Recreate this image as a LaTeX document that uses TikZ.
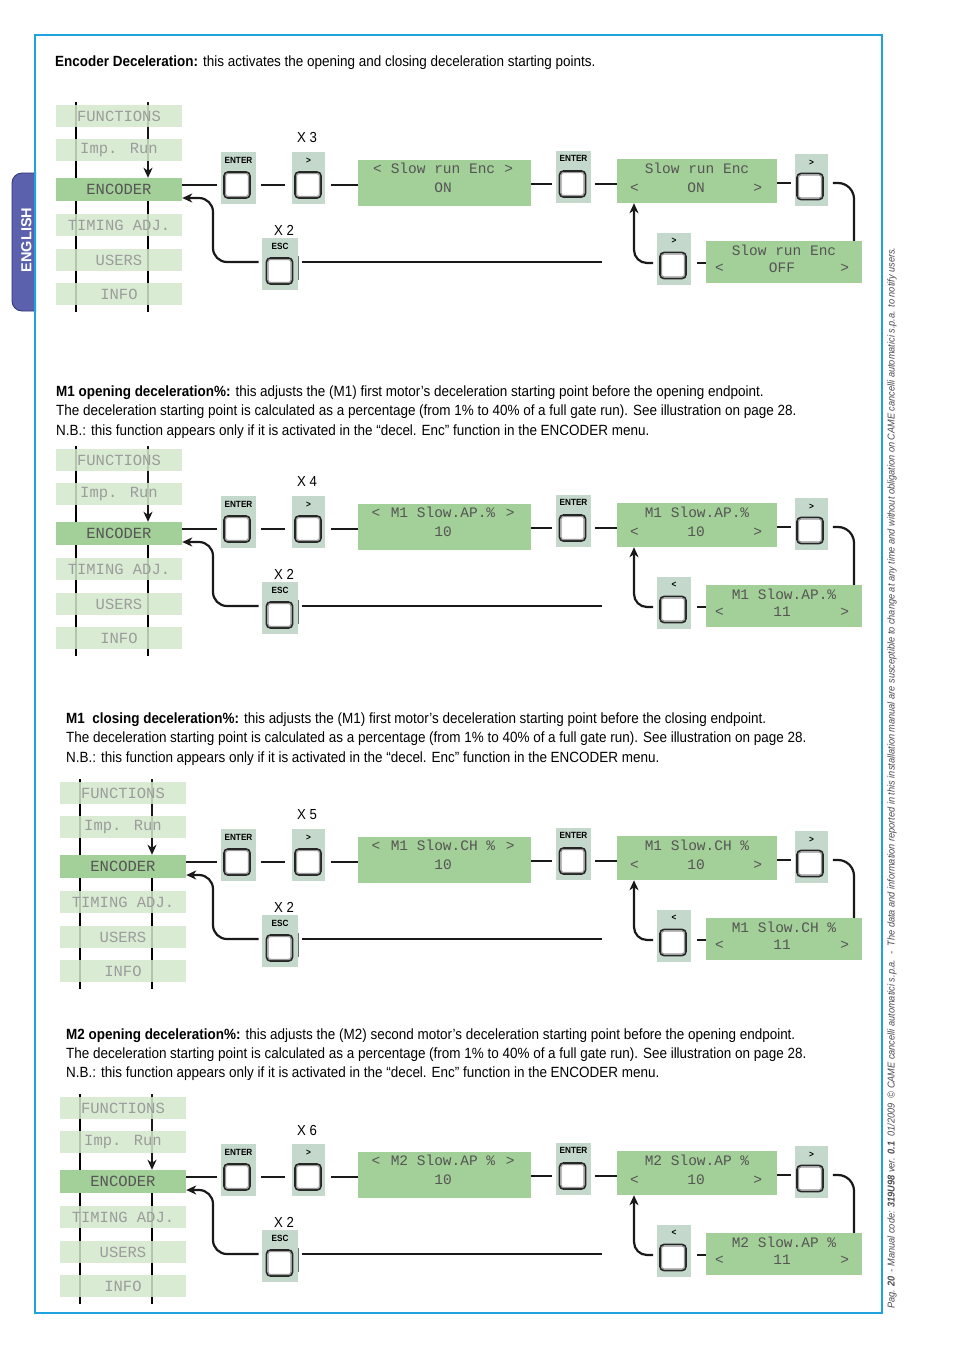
\documentclass[tikz,border=0pt]{standalone}
\usepackage{fontspec}
\setmainfont{Liberation Sans}[FakeStretch=0.91]
\newfontfamily\lcdfont{Liberation Mono}
\newfontfamily\widesans{Liberation Sans}
\newfontfamily\sidefont{Liberation Sans}[FakeStretch=0.92]
\usetikzlibrary{arrows.meta}
\pgfdeclarelayer{back}
\pgfdeclarelayer{bg}
\pgfsetlayers{back,bg,main}
\definecolor{frameblue}{HTML}{1FA3E0}
\definecolor{tabfill}{HTML}{5B61AC}
\definecolor{tabline}{HTML}{2E3175}
\definecolor{lcdgreen}{HTML}{A3CF98}
\definecolor{menugreen}{HTML}{D3E8CC}
\definecolor{panelc}{HTML}{C4D9CB}
\definecolor{lcdgrey}{HTML}{555555}
\definecolor{menugrey}{HTML}{9C9C9C}
\definecolor{sidegrey}{HTML}{4A4A4A}

\newcommand\keybtn[5]{%
  \node[panel, minimum width=#5] (#1p) at #2 {};
  \node[btnlab] at ([yshift=-8.5pt]#1p.north) {#4};
  \node[btn] (#1) at #3 {};
  \draw[btninner] ([shift={(2.4pt,2.4pt)}]#1.south west) rectangle ([shift={(-2.4pt,-2.4pt)}]#1.north east);
}

\newcommand\encsec[5]{%
\begin{scope}[shift={(0,#2)}]
  % menu column
  \begin{scope}[shift={(#3,0)}]
    \coordinate (#1lt) at (76,102);  \coordinate (#1lb) at (76,312);
    \coordinate (#1rt) at (148,102); \coordinate (#1rb) at (148,312);
    \node[menubox] (#1m1) at (119,116) {FUNCTIONS};
    \node[menubox] (#1m2) at (119,150) {Imp. Run};
    \node[encbox]  (#1enc) at (119,189.5) {ENCODER};
    \node[menubox] (#1m4) at (119,225) {TIMING ADJ.};
    \node[menubox] (#1m5) at (119,260) {USERS};
    \node[menubox] (#1m6) at (119,294) {INFO};
    \begin{pgfonlayer}{bg}
      \draw[vline] (#1lt) -- (#1lb);
      \draw[arr] (#1rt) -- (#1enc.north -| #1rt);
      \draw[vline] (#1enc.south -| #1rb) -- (#1rb);
    \end{pgfonlayer}
  \end{scope}
  \coordinate (#1bx) at (213,230);
  \coordinate (#1ax) at (634,230);
  \coordinate (#1cx) at (854,230);
  \coordinate (#1le) at (602,262);
  % keys and displays
  \keybtn{#1ent}{(238.5,178)}{(237,185)}{ENTER}{35}
  \keybtn{#1gt}{(308.5,178)}{(308,185)}{>}{33}
  \node[xlab] (#1xn) at (307,138) {X #4};
  \node[lcd, minimum width=173, minimum height=46] (#1mid) at (444.5,183) {};
  \node[lcdtxt] at (443,168) {\makebox[\midW pt]{<\hfill\midA\hfill>}};
  \node[lcdtxt] at (443,188) {\midB};
  \keybtn{#1en2}{(573.5,176.5)}{(572.5,184)}{ENTER}{35}
  \node[lcd, minimum width=160, minimum height=44] (#1ur) at (697,181) {};
  \node[lcdtxt] at (697,168) {\urA};
  \node[lcdtxt] at (696,188) {\makebox[132pt]{<\hfill\urB\hfill>}};
  \keybtn{#1gr}{(811.5,180)}{(810,186.5)}{>}{33}
  \node[lcd, minimum width=156, minimum height=42] (#1lr) at (784,262) {};
  \node[lcdtxt] at (784,250) {\urA};
  \node[lcdtxt] at (782,268) {\makebox[134pt]{<\hfill\lrB\hfill>}};
  \keybtn{#1gl}{(674,258.5)}{(673,265.5)}{#5}{34}
  \keybtn{#1esc}{(280,264)}{(279.5,271)}{ESC}{36}
  \node[xlab] (#1x2) at (284,230) {X 2};
  % connectors
  \draw[conn, shorten >=6pt] (#1enc.east |- #1ent.west) -- (#1ent.west);
  \draw[conn, shorten <=10pt, shorten >=9pt] (#1ent.east) -- (#1gt.west);
  \draw[conn, shorten <=9pt] (#1gt.east) -- (#1mid.west |- #1gt.east);
  \draw[conn, shorten >=7pt] (#1mid.east |- #1en2.west) -- (#1en2.west);
  \draw[conn, shorten <=9pt] (#1en2.east) -- (#1ur.west |- #1en2.east);
  \draw[conn, shorten >=5pt] (#1ur.east |- 0,183) -- (#1gr.west |- 0,183);
  \draw[conn, rounded corners=16] ([xshift=9pt]#1gr.east |- 0,183) -| (#1cx |- #1lr.north);
  \draw[conn, shorten >=10pt] (#1lr.west |- 0,263) -- (#1gl.east |- 0,263);
  \draw[arr, rounded corners=13] ([xshift=-6pt]#1gl.west |- 0,263) -| (#1ax |- #1ur.south);
  \draw[arr, rounded corners=14] ([xshift=-7pt]#1esc.west |- 0,262) -| (#1bx) |- ([yshift=-8.5pt]#1enc.east);
  \draw[conn] ([xshift=9pt]#1esc.east |- 0,262) -- (#1le);
  \draw[barline] ([yshift=8pt]#1escp.east) -- ([yshift=-16pt]#1escp.east);
\end{scope}}

\begin{document}
\begin{tikzpicture}[x=1pt,y=-1pt,
  para/.style={inner sep=0pt, anchor=base west, font=\fontsize{14.8}{19}\selectfont, text=black},
  xlab/.style={inner sep=0pt, font=\fontsize{14.5}{15}\selectfont},
  btnlab/.style={inner sep=0pt, font=\bfseries\fontsize{9}{9}\selectfont},
  panel/.style={fill=panelc, draw=none, minimum height=52, inner sep=0pt},
  btn/.style={draw=black!85, line width=1.7pt, fill=white, rounded corners=4pt, minimum width=26, minimum height=26, inner sep=0pt},
  btninner/.style={draw=black!40, line width=1.1pt, rounded corners=2.5pt},
  lcd/.style={fill=lcdgreen, draw=none, inner sep=0pt},
  lcdtxt/.style={inner sep=0pt, text=lcdgrey, font=\lcdfont\fontsize{14.5}{15}\selectfont},
  menubox/.style={fill=menugreen, fill opacity=0.85, text opacity=1, text=menugrey, minimum width=126, minimum height=22, inner sep=0pt, font=\lcdfont\fontsize{15.5}{16}\selectfont},
  encbox/.style={fill=lcdgreen, text=lcdgrey, minimum width=126, minimum height=23, inner sep=0pt, font=\lcdfont\fontsize{15.5}{16}\selectfont},
  vline/.style={draw=black, line width=2pt},
  conn/.style={draw=black!90, line width=2.2pt},
  arr/.style={draw=black!90, line width=2.2pt, -{Stealth[length=10pt,width=9pt,inset=3pt]}},
  barline/.style={draw=black!55, line width=1pt}
]
\useasboundingbox (0,0) rectangle (954,1350);
\begin{pgfonlayer}{back}
\fill[white] (0,0) rectangle (954,1350);
\end{pgfonlayer}

% language tab and frame
\draw[fill=tabfill, draw=tabline, line width=0.8pt, rounded corners=10pt] (36,173) -- (12,173) -- (12,311) -- (36,311);
\node[rotate=90, text=white, font=\widesans\bfseries\fontsize{14.5}{15}\selectfont] (tab) at (26.5,240) {ENGLISH};
\draw[frameblue, line width=1.6pt] (35,35) rectangle (882,1313);

% side text
\node[rotate=90, anchor=west, inner sep=0pt, text=sidegrey, font=\sidefont\itshape\fontsize{10}{10}\selectfont] (side) at (892,1309)
 {Pag. \textbf{20} \,- Manual code: \textbf{319U98} ver. \textbf{0.1} \ 01/2009 \ © CAME cancelli automatici s.p.a. \,- \ The data and information reported in this installation manual are susceptible to change at any time and without obligation on CAME cancelli automatici s.p.a. to notify users.};

% texts
\node[para] (t1) at (55,66) {\textbf{Encoder Deceleration:} this activates the opening and closing deceleration starting points.};

\node[para] (t2a) at (56,396) {\textbf{M1 opening deceleration\%:} this adjusts the (M1) first motor’s deceleration starting point before the opening endpoint.};
\node[para] (t2b) at (56,415) {The deceleration starting point is calculated as a percentage (from 1\% to 40\% of a full gate run). See illustration on page 28.};
\node[para] (t2c) at (56,435) {N.B.: this function appears only if it is activated in the “decel. Enc” function in the ENCODER menu.};

\node[para] (t3a) at (66,723) {\textbf{M1\ \ closing deceleration\%:} this adjusts the (M1) first motor’s deceleration starting point before the closing endpoint.};
\node[para] (t3b) at (66,742) {The deceleration starting point is calculated as a percentage (from 1\% to 40\% of a full gate run). See illustration on page 28.};
\node[para] (t3c) at (66,762) {N.B.: this function appears only if it is activated in the “decel. Enc” function in the ENCODER menu.};

\node[para] (t4a) at (66,1039) {\textbf{M2 opening deceleration\%:} this adjusts the (M2) second motor’s deceleration starting point before the opening endpoint.};
\node[para] (t4b) at (66,1058) {The deceleration starting point is calculated as a percentage (from 1\% to 40\% of a full gate run). See illustration on page 28.};
\node[para] (t4c) at (66,1077) {N.B.: this function appears only if it is activated in the “decel. Enc” function in the ENCODER menu.};

% sections
\def\midW{140}\def\midA{Slow run Enc}\def\midB{ON}\def\urA{Slow run Enc}\def\urB{ON}\def\lrB{OFF}
\encsec{a}{0}{0}{3}{>}
\def\midW{143}\def\midA{M1 Slow.AP.\%}\def\midB{10}\def\urA{M1 Slow.AP.\%}\def\urB{10}\def\lrB{11}
\encsec{b}{344}{0}{4}{<}
\def\midW{143}\def\midA{M1 Slow.CH \%}\def\midB{10}\def\urA{M1 Slow.CH \%}\def\urB{10}\def\lrB{11}
\encsec{c}{677}{4}{5}{<}
\def\midW{143}\def\midA{M2 Slow.AP \%}\def\midB{10}\def\urA{M2 Slow.AP \%}\def\urB{10}\def\lrB{11}
\encsec{d}{992}{4}{6}{<}
\end{tikzpicture}
\end{document}
